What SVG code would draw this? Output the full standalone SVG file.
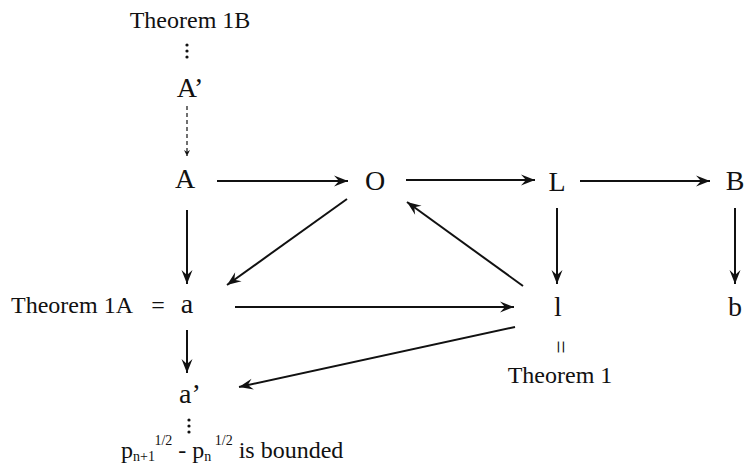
<svg xmlns="http://www.w3.org/2000/svg" width="745" height="466" viewBox="0 0 745 466">
<style>
text{font-family:"Liberation Serif","DejaVu Serif",serif;fill:#111}
.lbl{font-size:24px}
.node{font-size:28px;text-anchor:middle}
.edge{stroke:#111;stroke-width:2;fill:none;marker-end:url(#ah)}
.dash{stroke:#111;stroke-width:1.2;fill:none;stroke-dasharray:4 3;marker-end:url(#sah)}
.dot{fill:#111}
.sup{font-size:14px}
</style>
<defs>
<marker id="ah" viewBox="-15 -7 16 14" refX="0" refY="0" markerWidth="16" markerHeight="14" orient="auto" markerUnits="userSpaceOnUse">
<path d="M0,0 L-14,-5.5 L-9,0 L-14,5.5 Z" fill="#111"/>
</marker>
<marker id="sah" viewBox="-7 -4 8 8" refX="0" refY="0" markerWidth="8" markerHeight="8" orient="auto" markerUnits="userSpaceOnUse">
<path d="M0,0 L-6,-3 L-4,0 L-6,3 Z" fill="#111"/>
</marker>
</defs>
<g id="theorem1B"><text class="lbl" x="190" y="28" text-anchor="middle">Theorem 1B</text>
<circle class="dot" cx="187" cy="45" r="1.6"/><circle class="dot" cx="187" cy="51" r="1.6"/><circle class="dot" cx="187" cy="57" r="1.6"/></g>
<g id="Aprime"><text class="node" x="190" y="97">A’</text></g>
<g id="A"><text class="node" x="185" y="188">A</text></g>
<g id="O"><text class="node" x="375" y="190">O</text></g>
<g id="L"><text class="node" x="557" y="191">L</text></g>
<g id="B"><text class="node" x="735" y="190">B</text></g>
<g id="a"><text class="lbl" x="11" y="313">Theorem 1A</text><text class="lbl" x="158" y="313" text-anchor="middle">=</text><text class="node" x="187" y="313">a</text></g>
<g id="l"><text class="node" x="558" y="316">l</text>
<text class="lbl" x="0" y="0" text-anchor="middle" transform="translate(560 347) rotate(90) translate(0 7)">=</text>
<text class="lbl" x="560" y="383" text-anchor="middle">Theorem 1</text></g>
<g id="b"><text class="node" x="735" y="316">b</text></g>
<g id="aprime"><text class="node" x="190" y="403">a’</text>
<circle class="dot" cx="189" cy="420" r="1.6"/><circle class="dot" cx="189" cy="426" r="1.6"/><circle class="dot" cx="189" cy="432" r="1.6"/></g>
<g id="bound"><text class="lbl" x="121" y="458">p<tspan class="sup" dy="3">n+1</tspan><tspan class="sup" dy="-16">1/2</tspan><tspan dy="13"> - p</tspan><tspan class="sup" dy="3">n</tspan><tspan class="sup" dy="-16"> 1/2</tspan><tspan dy="13"> is bounded</tspan></text></g>
<g id="connectors">
<path class="dash" d="M187,106 L187,156"/>
<path class="edge" d="M217,181 L348,181"/>
<path class="edge" d="M406,180 L535,180"/>
<path class="edge" d="M580,181 L710,181"/>
<path class="edge" d="M187,210 L187,284"/>
<path class="edge" d="M347,199 L227,285"/>
<path class="edge" d="M235,307 L514,307"/>
<path class="edge" d="M523,286 L407,202"/>
<path class="edge" d="M557,208 L557,284"/>
<path class="edge" d="M735,208 L735,284"/>
<path class="edge" d="M187,330 L187,373"/>
<path class="edge" d="M515,327 L239,387"/>
</g>
</svg>
